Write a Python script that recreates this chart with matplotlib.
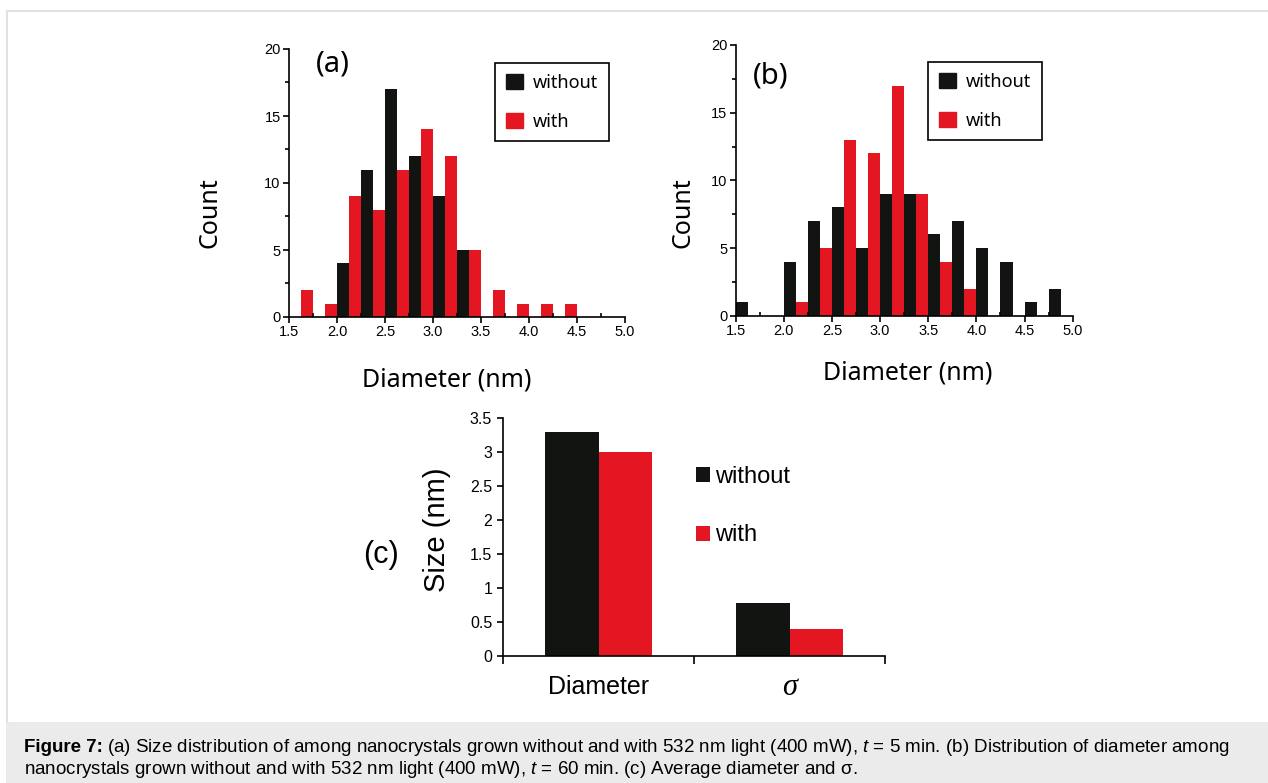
import numpy as np
import matplotlib
matplotlib.use('Agg')
import matplotlib.pyplot as plt
from matplotlib.patches import Patch, Rectangle
from matplotlib.lines import Line2D
from matplotlib.ticker import MultipleLocator

# ---------------- data ----------------
binEdges = [1.5, 1.75, 2.0, 2.25, 2.5, 2.75, 3.0, 3.25, 3.5, 3.75, 4.0, 4.25, 4.5, 4.75]

countA_without = [0, 0, 4, 11, 17, 12, 9, 5, 0, 0, 0, 0, 0, 0]
countA_with = [2, 1, 9, 8, 11, 14, 12, 5, 2, 1, 1, 1, 0, 0]

countB_without = [1, 0, 4, 7, 8, 5, 9, 9, 6, 7, 5, 4, 1, 2]
countB_with = [0, 0, 1, 5, 13, 12, 17, 9, 4, 2, 0, 0, 0, 0]

sizeCategories = ['Diameter', 'σ']
size_without = [3.30, 0.78]
size_with = [3.00, 0.39]

seriesNames = ['without', 'with']

BLACK = '#111411'
RED = '#e31622'
W, H = 1268, 783

plt.rcParams['mathtext.fontset'] = 'custom'
plt.rcParams['mathtext.rm'] = 'Liberation Sans'
plt.rcParams['mathtext.it'] = 'Liberation Sans:italic'
plt.rcParams['mathtext.bf'] = 'Liberation Sans:bold'

LABEL_FONT = ['Noto Sans', 'DejaVu Sans']
TICK_FONT = 'Liberation Sans'

fig = plt.figure(figsize=(W / 100, H / 100), dpi=100)


def fx(px):
    return px / W


def fy(py):
    return 1 - py / H


# frame and caption background
fig.add_artist(Line2D([fx(6.5), 1], [fy(10.5), fy(10.5)], color='#e2e2e2', lw=1.5))
fig.add_artist(Line2D([fx(6.5), fx(6.5)], [fy(10.5), fy(722)], color='#e2e2e2', lw=1.5))
fig.add_artist(Rectangle((fx(6), 0), 1 - fx(6), fy(722), color='#ebebeb', lw=0))


def Histogram(rect, wo, wi, tag, tagPos, legendAnchor):
    ax = fig.add_axes(rect)
    edges = np.array(binEdges)
    ax.bar(edges, wo, width=0.125, align='edge', color=BLACK, linewidth=0)
    ax.bar(edges + 0.125, wi, width=0.125, align='edge', color=RED, linewidth=0)
    ax.set_xlim(1.5, 5.0)
    ax.set_ylim(0, 20)
    ax.spines['top'].set_visible(False)
    ax.spines['right'].set_visible(False)
    for s in ['left', 'bottom']:
        ax.spines[s].set_linewidth(1.2)
    ax.xaxis.set_major_locator(MultipleLocator(0.5))
    ax.xaxis.set_minor_locator(MultipleLocator(0.25))
    ax.yaxis.set_major_locator(MultipleLocator(5))
    ax.yaxis.set_minor_locator(MultipleLocator(2.5))
    ax.set_xticks(ax.get_xticks())
    ax.set_xticklabels(['%.1f' % v for v in ax.get_xticks()])
    ax.set_xlim(1.5, 5.0)
    ax.tick_params(axis='both', which='major', direction='out', length=4, width=1.2, pad=2,
                   labelsize=10.5)
    ax.tick_params(axis='x', which='minor', direction='in', length=3, width=1.2)
    ax.tick_params(axis='y', which='minor', direction='out', length=3, width=1.2)
    for lab in ax.get_xticklabels() + ax.get_yticklabels():
        lab.set_family(TICK_FONT)
    ax.text(tagPos[0], tagPos[1], tag, transform=ax.transAxes, fontsize=21, family=LABEL_FONT,
            ha='left', va='center')
    handles = [Patch(color=BLACK), Patch(color=RED)]
    leg = ax.legend(handles, seriesNames, loc='upper left', bbox_to_anchor=legendAnchor,
                    prop={'family': LABEL_FONT, 'size': 13}, fancybox=False, framealpha=1,
                    edgecolor='black', handlelength=0.95, handleheight=0.9, handletextpad=0.55,
                    labelspacing=1.15, borderpad=0.6, borderaxespad=0)
    leg.get_frame().set_linewidth(1.2)
    return ax


Histogram([fx(289), fy(317), fx(625) - fx(289), fy(49) - fy(317)],
          countA_without, countA_with, '(a)', (0.08, 0.945), (0.613, 0.948))
fig.text(fx(210), fy(213), 'Count', rotation=90, ha='center', va='center', fontsize=18,
         family=LABEL_FONT)
fig.text(fx(447), fy(380), 'Diameter (nm)', ha='center', va='center', fontsize=18,
         family=LABEL_FONT)

Histogram([fx(735.7), fy(315.7), fx(1072.7) - fx(735.7), fy(45) - fy(315.7)],
          countB_without, countB_with, '(b)', (0.05, 0.885), (0.571, 0.937))
fig.text(fx(683), fy(213), 'Count', rotation=90, ha='center', va='center', fontsize=18,
         family=LABEL_FONT)
fig.text(fx(908), fy(373), 'Diameter (nm)', ha='center', va='center', fontsize=18,
         family=LABEL_FONT)

# ---------------- (c) ----------------
axc = fig.add_axes([fx(503.3), fy(655.7), fx(885) - fx(503.3), fy(418.3) - fy(655.7)])
xc = np.arange(len(sizeCategories))
axc.bar(xc - 0.14, size_without, width=0.28, color=BLACK, linewidth=0, label=seriesNames[0])
axc.bar(xc + 0.14, size_with, width=0.28, color=RED, linewidth=0, label=seriesNames[1])
axc.set_xlim(-0.5, 1.5)
axc.set_ylim(0, 3.5)
axc.spines['top'].set_visible(False)
axc.spines['right'].set_visible(False)
for s in ['left', 'bottom']:
    axc.spines[s].set_linewidth(1.2)
axc.set_yticks(np.arange(0, 3.51, 0.5))
axc.set_yticklabels(['%g' % v for v in np.arange(0, 3.51, 0.5)], family=TICK_FONT, fontsize=11.5)
axc.set_xticks([-0.5, 0.5, 1.5])
axc.set_xticklabels([])
axc.set_xticks(xc, minor=True)
axc.set_xticklabels(['Diameter', ''], minor=True, family=TICK_FONT, fontsize=18)
axc.tick_params(axis='x', which='major', direction='out', length=6, width=1.2)
axc.tick_params(axis='x', which='minor', length=0, pad=14)
axc.tick_params(axis='y', direction='out', length=4, width=1.2, pad=4)
axc.text(1, -0.135, sizeCategories[1], transform=axc.get_xaxis_transform(), ha='center',
         va='center', fontsize=22, family='Liberation Serif', style='italic')
legc = axc.legend(loc='upper left', bbox_to_anchor=(0.505, 0.80), frameon=False,
                  prop={'family': TICK_FONT, 'size': 17}, handlelength=0.6, handleheight=0.6,
                  handletextpad=0.2, labelspacing=1.55, borderpad=0, borderaxespad=0)
fig.text(fx(437), fy(530), 'Size (nm)', rotation=90, ha='center', va='center', fontsize=21,
         family=TICK_FONT)
fig.text(fx(381), fy(555), '(c)', ha='center', va='center', fontsize=22, family=TICK_FONT)

# ---------------- caption ----------------
capSize = 13.5
line1 = (r'(a) Size distribution of among nanocrystals grown without and '
         r'with 532 nm light (400 mW), $\mathit{t}$ = 5 min. (b) Distribution of diameter among')
line2 = (r'nanocrystals grown without and with 532 nm light (400 mW), $\mathit{t}$ = 60 min. '
         r'(c) Average diameter and σ.')
head = fig.text(fx(24), fy(747), 'Figure 7:', ha='left', va='center', fontsize=capSize,
                family=TICK_FONT, weight='bold')
bb = head.get_window_extent(renderer=fig.canvas.get_renderer())
fig.text(fx(bb.x1 + 4), fy(747), line1, ha='left', va='center', fontsize=capSize,
         family=TICK_FONT)
fig.text(fx(24), fy(770), line2, ha='left', va='center', fontsize=capSize, family=TICK_FONT)

fig.savefig('out.png', dpi=100)
